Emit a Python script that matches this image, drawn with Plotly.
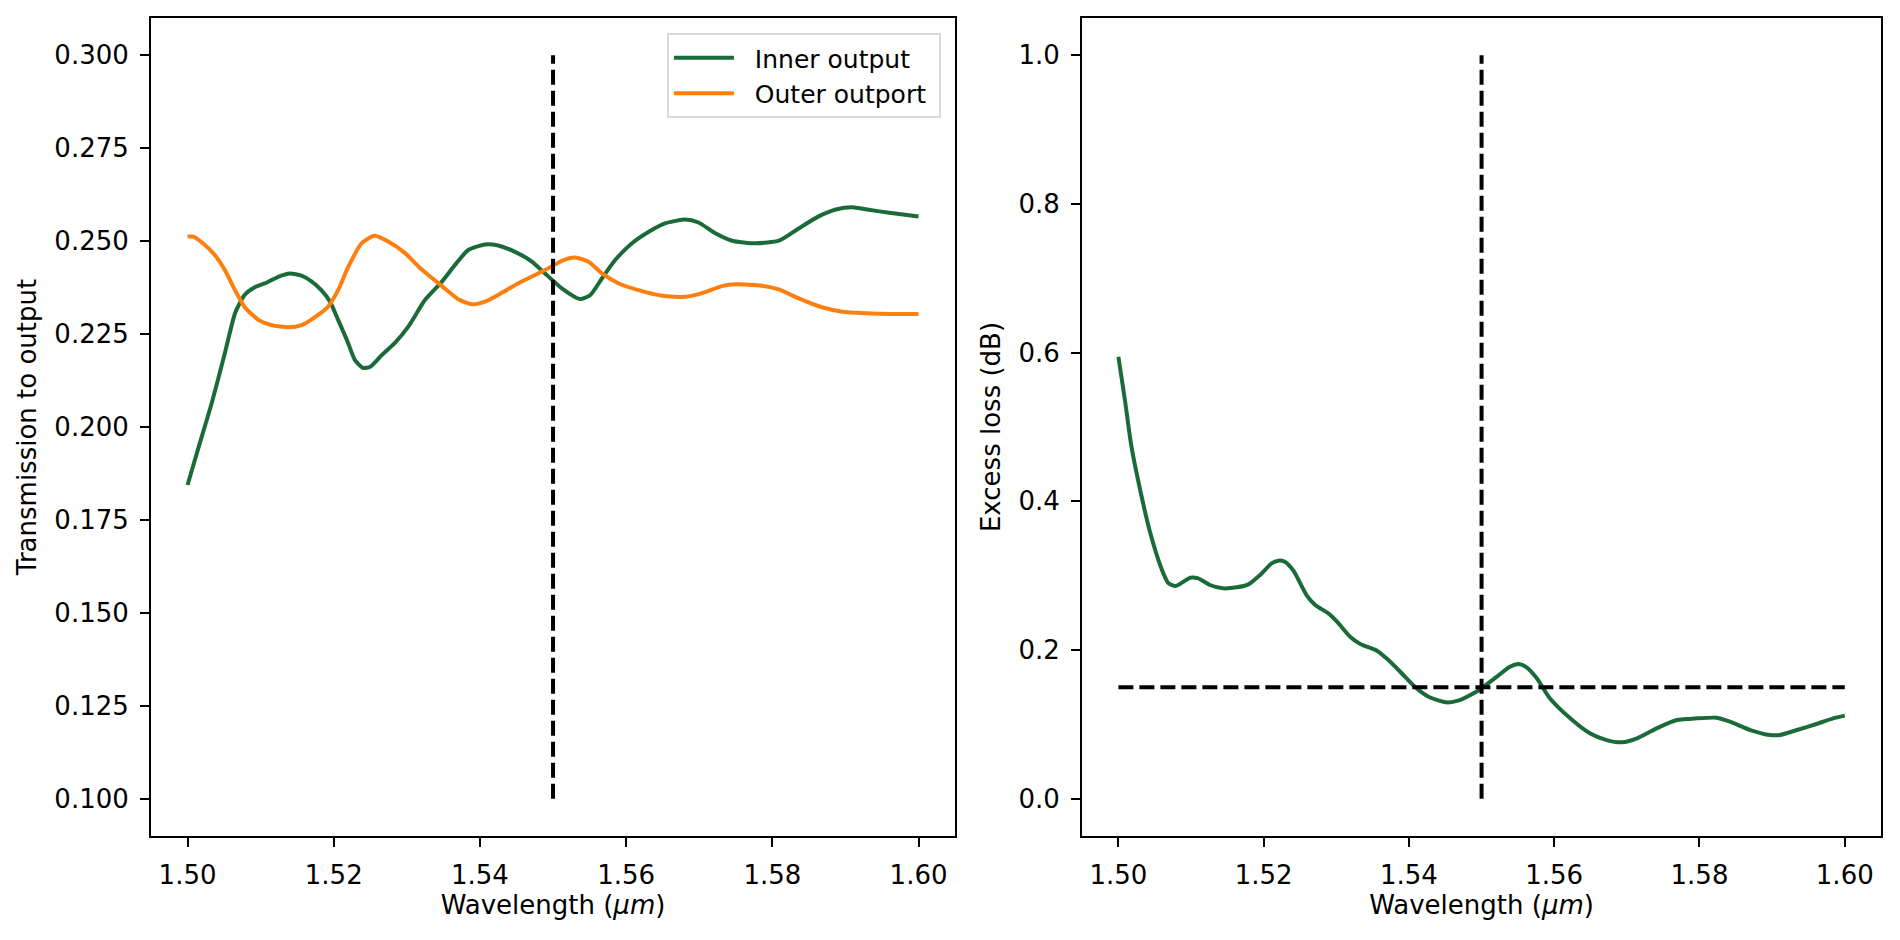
import plotly.graph_objects as go

# transmission to each output port (left panel)
inner_wl = [1.5000, 1.5014, 1.5033, 1.5051, 1.5065, 1.5078, 1.5092, 1.5108, 1.5124, 1.5140,
            1.5156, 1.5170, 1.5183, 1.5195, 1.5206, 1.5218, 1.5229, 1.5240, 1.5250, 1.5266,
            1.5284, 1.5302, 1.5325, 1.5348, 1.5366, 1.5384, 1.5407, 1.5425, 1.5448, 1.5471,
            1.5489, 1.5512, 1.5537, 1.5551, 1.5567, 1.5585, 1.5608, 1.5631, 1.5654, 1.5681,
            1.5699, 1.5722, 1.5745, 1.5777, 1.5809, 1.5836, 1.5864, 1.5887, 1.5909, 1.5932,
            1.5960, 1.6000]
inner_t = [0.1844, 0.1938, 0.2064, 0.2198, 0.2306, 0.2355, 0.2376, 0.2388, 0.2404, 0.2413,
           0.2407, 0.2391, 0.2368, 0.2337, 0.2288, 0.2234, 0.2180, 0.2159, 0.2162, 0.2194,
           0.2227, 0.2270, 0.2342, 0.2391, 0.2436, 0.2476, 0.2491, 0.2488, 0.2471, 0.2445,
           0.2413, 0.2373, 0.2344, 0.2355, 0.2400, 0.2449, 0.2494, 0.2525, 0.2548, 0.2558,
           0.2550, 0.2521, 0.2501, 0.2494, 0.2501, 0.2534, 0.2567, 0.2585, 0.2591, 0.2584,
           0.2576, 0.2566]

outer_wl = [1.5000, 1.5008, 1.5021, 1.5037, 1.5051, 1.5065, 1.5078, 1.5097, 1.5115, 1.5138,
            1.5156, 1.5174, 1.5192, 1.5206, 1.5220, 1.5238, 1.5256, 1.5275, 1.5298, 1.5320,
            1.5348, 1.5371, 1.5389, 1.5407, 1.5430, 1.5457, 1.5489, 1.5512, 1.5530, 1.5549,
            1.5567, 1.5590, 1.5617, 1.5649, 1.5681, 1.5704, 1.5731, 1.5750, 1.5786, 1.5809,
            1.5836, 1.5868, 1.5896, 1.5928, 1.5964, 1.6000]
outer_t = [0.2512, 0.2512, 0.2494, 0.2463, 0.2422, 0.2368, 0.2323, 0.2288, 0.2274, 0.2268,
           0.2274, 0.2295, 0.2323, 0.2368, 0.2431, 0.2494, 0.2514, 0.2498, 0.2467, 0.2424,
           0.2379, 0.2343, 0.2330, 0.2337, 0.2361, 0.2391, 0.2422, 0.2447, 0.2456, 0.2444,
           0.2413, 0.2386, 0.2368, 0.2353, 0.2350, 0.2360, 0.2379, 0.2384, 0.2380, 0.2370,
           0.2346, 0.2322, 0.2310, 0.2306, 0.2304, 0.2304]

# excess loss (right panel)
loss_wl = [1.5000, 1.5009, 1.5018, 1.5030, 1.5044, 1.5060, 1.5069, 1.5079, 1.5099, 1.5110,
           1.5126, 1.5144, 1.5163, 1.5179, 1.5195, 1.5211, 1.5220, 1.5229, 1.5241, 1.5259,
           1.5271, 1.5289, 1.5301, 1.5319, 1.5333, 1.5356, 1.5369, 1.5388, 1.5408, 1.5427,
           1.5452, 1.5470, 1.5489, 1.5500, 1.5521, 1.5539, 1.5551, 1.5562, 1.5576, 1.5594,
           1.5622, 1.5649, 1.5672, 1.5693, 1.5714, 1.5741, 1.5769, 1.5796, 1.5824, 1.5842,
           1.5870, 1.5897, 1.5911, 1.5934, 1.5961, 1.5984, 1.6000]
loss_db = [0.5945, 0.5363, 0.4735, 0.4153, 0.3570, 0.3077, 0.2898, 0.2862, 0.2973, 0.2965,
           0.2875, 0.2830, 0.2844, 0.2884, 0.3009, 0.3167, 0.3202, 0.3188, 0.3068, 0.2740,
           0.2606, 0.2494, 0.2382, 0.2180, 0.2082, 0.1992, 0.1889, 0.1709, 0.1507, 0.1373,
           0.1297, 0.1328, 0.1418, 0.1486, 0.1642, 0.1776, 0.1813, 0.1768, 0.1620, 0.1351,
           0.1082, 0.0881, 0.0790, 0.0760, 0.0813, 0.0948, 0.1059, 0.1082, 0.1090, 0.1037,
           0.0925, 0.0858, 0.0858, 0.0925, 0.1006, 0.1082, 0.1118]

center_wl = 1.55
wl_span = [1.50, 1.60]
t_span = [0.10, 0.30]
loss_span = [0.0, 1.0]
loss_limit = 0.15

green = '#1b6a3a'
orange = '#ff7f0e'
dash = '15px,6px'
fsize = 26
nb = '\u00a0'

fig = go.Figure()

fig.add_trace(go.Scatter(x=inner_wl, y=inner_t, mode='lines', name=nb * 2 + 'Inner output' + nb,
                         line=dict(color=green, width=4, shape='spline', smoothing=0.6),
                         xaxis='x', yaxis='y'))
fig.add_trace(go.Scatter(x=outer_wl, y=outer_t, mode='lines', name=nb * 2 + 'Outer outport' + nb,
                         line=dict(color=orange, width=4, shape='spline', smoothing=0.6),
                         xaxis='x', yaxis='y'))
fig.add_trace(go.Scatter(x=[center_wl, center_wl], y=t_span, mode='lines', showlegend=False,
                         line=dict(color='black', width=4, dash=dash), xaxis='x', yaxis='y'))

fig.add_trace(go.Scatter(x=loss_wl, y=loss_db, mode='lines', showlegend=False,
                         line=dict(color=green, width=4, shape='spline', smoothing=0.6),
                         xaxis='x2', yaxis='y2'))
fig.add_trace(go.Scatter(x=[center_wl, center_wl], y=loss_span, mode='lines', showlegend=False,
                         line=dict(color='black', width=4, dash=dash), xaxis='x2', yaxis='y2'))
fig.add_trace(go.Scatter(x=wl_span, y=[loss_limit, loss_limit], mode='lines', showlegend=False,
                         line=dict(color='black', width=4, dash=dash), xaxis='x2', yaxis='y2'))

axis_style = dict(showline=True, linecolor='black', linewidth=2, mirror=True,
                  ticks='outside', ticklen=9, tickwidth=2, tickcolor='black',
                  showgrid=False, zeroline=False, tickfont=dict(size=fsize, color='black'),
                  ticklabelstandoff=6)

xtitle = dict(text='Wavelength (<i>μm</i>)', font=dict(size=fsize, color='black'), standoff=6)

# page body keeps an 8px margin, so the figure is 1884x924
fig.update_layout(
    width=1884, height=924,
    paper_bgcolor='white', plot_bgcolor='white',
    font=dict(family='DejaVu Sans', size=fsize, color='black'),
    margin=dict(l=0, r=0, t=0, b=0),
    xaxis=dict(domain=[0.0759, 0.5027], range=[1.495, 1.605], dtick=0.02, tickformat='.2f',
               title=xtitle, anchor='y', **axis_style),
    yaxis=dict(domain=[0.1039, 0.9892], range=[0.09, 0.31], dtick=0.025, tickformat='.3f',
               title=dict(text='Transmission to output', font=dict(size=fsize, color='black'), standoff=10),
               anchor='x', **axis_style),
    xaxis2=dict(domain=[0.5701, 0.9942], range=[1.495, 1.605], dtick=0.02, tickformat='.2f',
                title=xtitle, anchor='y2', **axis_style),
    yaxis2=dict(domain=[0.1039, 0.9892], range=[-0.05, 1.05], dtick=0.2, tickformat='.1f',
                title=dict(text='Excess loss (dB)', font=dict(size=fsize, color='black'), standoff=10),
                anchor='x2', **axis_style),
    legend=dict(x=0.4952, xanchor='right', y=0.9729, yanchor='top', itemwidth=60,
                bgcolor='rgba(255,255,255,0.8)', bordercolor='#d9d9d9', borderwidth=2,
                font=dict(size=25, color='black'), tracegroupgap=0),
)

fig.write_html("out.html")
